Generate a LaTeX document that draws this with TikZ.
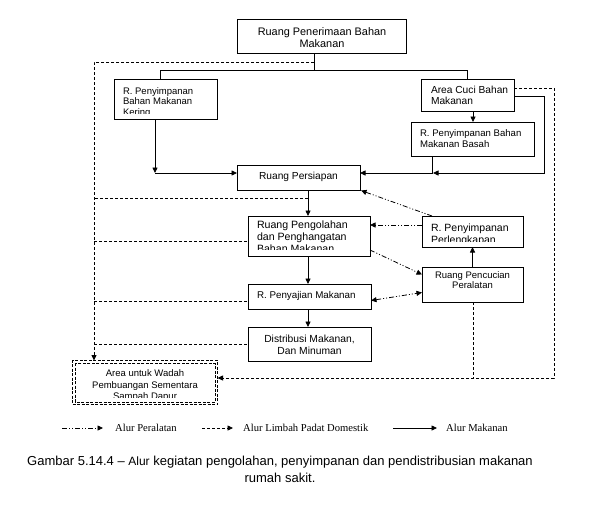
\documentclass[tikz,border=0pt]{standalone}
\usepackage{fontspec}
\setmainfont{Liberation Sans}
\newfontfamily\legfont{Liberation Serif}
\usetikzlibrary{arrows.meta}
\newcommand\fsz[2]{\fontsize{#1}{#2}\selectfont}
\begin{document}
\begin{tikzpicture}[x=1pt,y=-1pt,
  >={Triangle[length=5.5pt,width=5pt]},
  box/.style={draw, line width=0.8pt, anchor=north west, inner sep=0pt, outer sep=0pt},
  txt/.style={inner sep=0pt, outer sep=0pt, align=left, anchor=north west},
  ctxt/.style={inner sep=0pt, outer sep=0pt, align=center},
  food/.style={line width=0.8pt},
  waste/.style={line width=0.8pt, dash pattern=on 3pt off 2pt},
  areaedge/.style={line width=0.8pt, dash pattern=on 3pt off 1.5pt},
  equip/.style={line width=0.8pt, dash pattern=on 5pt off 2pt on 1pt off 2pt on 1pt off 2pt},
  leg/.style={inner sep=0pt, anchor=west, font=\legfont\fsz{10.6}{12}}]
\fill[white] (0,0) rectangle (601,506);
\useasboundingbox (0,0) rectangle (601,506);

% ---------- boxes ----------
\node[box, minimum width=169pt, minimum height=34pt] (pen) at (237,19) {};
\node[ctxt, font=\fsz{10.9}{11.5}] (pen-t) at (322,37.4) {Ruang Penerimaan Bahan\\Makanan};

\node[box, minimum width=103pt, minimum height=40pt] (ker) at (114,79) {};
\begin{scope}
  \clip (ker.north west) rectangle ([yshift=5.5pt]ker.south east);
  \node[txt, font=\fsz{9.5}{10.6}] (ker-t) at (123,87.2) {R. Penyimpanan\\Bahan Makanan\\Kering};
\end{scope}

\node[box, minimum width=93pt, minimum height=32pt] (cuci) at (421,79) {};
\node[txt, font=\fsz{10.2}{11}] (cuci-t) at (431,86.2) {Area Cuci Bahan\\Makanan};

\node[box, minimum width=123pt, minimum height=34pt] (basah) at (411,122) {};
\node[txt, font=\fsz{9.6}{11}] (basah-t) at (420,130) {R. Penyimpanan Bahan\\Makanan Basah};

\node[box, minimum width=123pt, minimum height=25pt] (pers) at (237,165) {};
\node[ctxt, font=\fsz{10.2}{12}] (pers-t) at (298.5,176.5) {Ruang Persiapan};

\node[box, minimum width=122pt, minimum height=40pt] (peng) at (248,216) {};
\begin{scope}
  \clip (peng.north west) rectangle ([yshift=6.5pt]peng.south east);
  \node[txt, font=\fsz{10.6}{12}] (peng-t) at (257,220.8) {Ruang Pengolahan\\dan Penghangatan\\Bahan Makanan};
\end{scope}

\node[box, minimum width=101pt, minimum height=31pt] (perl) at (422,216) {};
\begin{scope}
  \clip (perl.north west) rectangle ([yshift=5.5pt]perl.south east);
  \node[txt, font=\fsz{10.5}{12}] (perl-t) at (431,223.5) {R. Penyimpanan\\Perlengkapan};
\end{scope}

\node[box, minimum width=101pt, minimum height=35pt] (penc) at (422,267) {};
\node[ctxt, font=\fsz{9.5}{10.5}] (penc-t) at (472.5,280) {Ruang Pencucian\\Peralatan};

\node[box, minimum width=123pt, minimum height=25pt] (saji) at (248,284) {};
\node[txt, font=\fsz{9.8}{12}] (saji-t) at (257,291.5) {R. Penyajian Makanan};

\node[box, minimum width=123pt, minimum height=34pt] (dist) at (248,327) {};
\node[ctxt, font=\fsz{10.3}{12}] (dist-t) at (309.5,345) {Distribusi Makanan,\\Dan Minuman};

\node[draw, areaedge, anchor=north west, inner sep=0pt, outer sep=0pt,
      minimum width=145pt, minimum height=44pt] (area) at (72.5,360.5) {};
\draw[areaedge] ([shift={(2.6pt,-2.6pt)}]area.north west) rectangle ([shift={(-2.6pt,2.6pt)}]area.south east);
\begin{scope}
  \clip (76,364) rectangle (215,397.5);
  \node[ctxt, anchor=north, font=\fsz{9.5}{11.5}] (area-t) at (145,369.7) {Area untuk Wadah\\Pembuangan Sementara\\Sampah Dapur};
\end{scope}

% ---------- coordinates ----------
\coordinate (t) at (314,70);
\coordinate (k1) at (160,70);
\coordinate (c1) at (467,70);
\coordinate (k2) at (155,173);
\coordinate (b1) at (432,173);
\coordinate (c2) at (544,96);
\coordinate (c3) at (544,173);
\coordinate (c4) at (433,173);
\coordinate (xa) at (473,0);
\coordinate (xm) at (308,0);
\coordinate (d0) at (314,62);
\coordinate (d1) at (94,62);
\coordinate (w1) at (308,198);
\coordinate (w2) at (94,241);
\coordinate (w3) at (94,301);
\coordinate (w4) at (94,344);
\coordinate (r1) at (554,88);
\coordinate (r2) at (554,378);
\coordinate (r3) at (473,378);
\coordinate (e1) at (400,225);

% ---------- food flow (solid) ----------
\draw[food] (pen.south -| t) -- (t);
\draw[food] (k1 |- ker.north) -- (k1) -- (c1) -- (c1 |- cuci.north);
\draw[food,->] (k2 |- ker.south) -- (k2);
\draw[food,->] (k2) -- (k2 -| pers.west);
\draw[food,->] (xa |- cuci.south) -- (xa |- basah.north);
\draw[food,->] (b1 |- basah.south) -- (b1) -- (b1 -| pers.east);
\draw[food,->] (c2 -| cuci.east) -- (c2) -- (c3) -- (c4);
\draw[food,->] (xm |- pers.south) -- (xm |- peng.north);
\draw[food,->] (xm |- peng.south) -- (xm |- saji.north);
\draw[food,->] (xm |- saji.south) -- (xm |- dist.north);
\draw[food,->] (penc.north) -- (perl.south);

% ---------- waste flow (dashed) ----------
\draw[waste,->] (d0) -- (d1) -- (d1 |- area.north);
\draw[waste] (w1) -- (w1 -| d1);
\draw[waste] (w2) -- (w2 -| peng.west);
\draw[waste] (w3) -- (w3 -| saji.west);
\draw[waste] (w4) -- (w4 -| dist.west);
\draw[waste,->] (r1 -| cuci.east) -- (r1) -- (r2) -- (r2 -| area.east);
\draw[waste] (r3 |- penc.south) -- (r3);

% ---------- equipment flow (dash-dot) ----------
\draw[equip,->] (e1 -| perl.west) -- (e1 -| peng.east);
\draw[equip,->] ([xshift=10pt]perl.north west) -- ([xshift=1pt,yshift=-0.5pt]pers.south east);
\draw[equip,->] ([yshift=6pt]peng.south east) -- ([yshift=10pt]penc.west);
\draw[equip,<->] ([yshift=-4pt]saji.east) -- ([yshift=-8pt]penc.west);

% ---------- legend ----------
\coordinate (la1) at (62,428);  \coordinate (la2) at (103,428);
\coordinate (lb1) at (202,428); \coordinate (lb2) at (233,428);
\coordinate (lc1) at (393,428); \coordinate (lc2) at (437,428);
\draw[equip,->] (la1) -- (la2);
\node[leg] (lat) at (115,427.5) {Alur Peralatan};
\draw[waste,->] (lb1) -- (lb2);
\node[leg] (lbt) at (243,427.5) {Alur Limbah Padat Domestik};
\draw[food,->] (lc1) -- (lc2);
\node[leg] (lct) at (446,427.5) {Alur Makanan};

% ---------- caption ----------
\node[ctxt, anchor=north, font=\fsz{13}{17}] (cap) at (280,456.2)
  {Gambar 5.14.4 – {\fsz{12}{17}Alur} kegiatan pengolahan, penyimpanan dan pendistribusian makanan\\rumah sakit.};
\end{tikzpicture}
\end{document}
